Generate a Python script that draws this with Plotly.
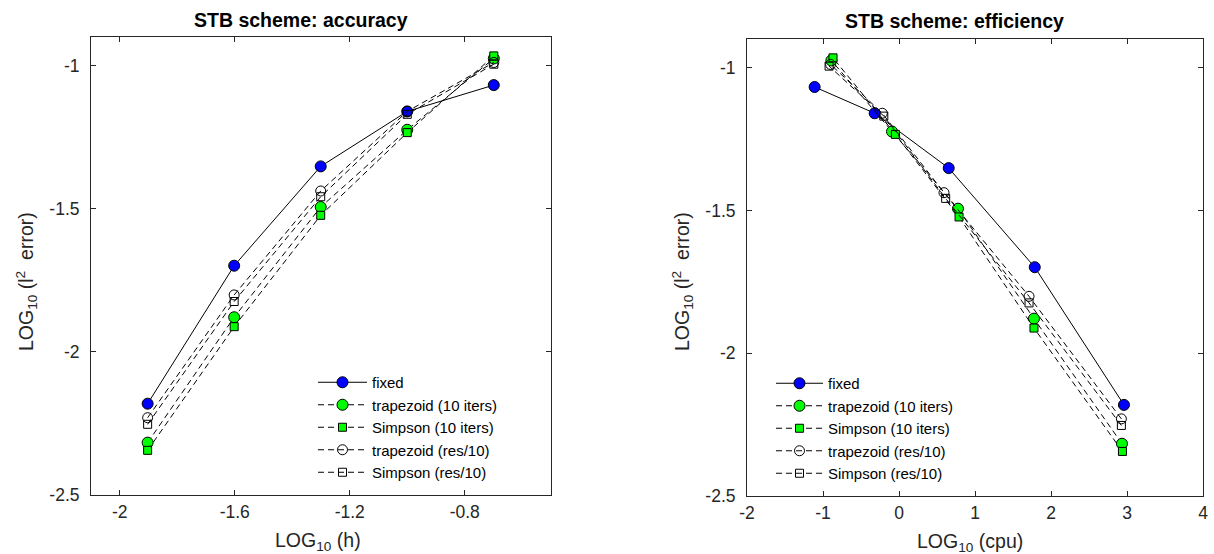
import plotly.graph_objects as go

# ---- data ----
log_h = [-1.903, -1.602, -1.301, -1.0, -0.699]

err_fixed = [-2.181, -1.699, -1.352, -1.160, -1.068]
err_trap10 = [-2.317, -1.879, -1.494, -1.224, -0.975]
err_simp10 = [-2.344, -1.912, -1.523, -1.234, -0.966]
err_trapres = [-2.230, -1.801, -1.438, -1.160, -0.989]
err_simpres = [-2.253, -1.824, -1.458, -1.170, -0.995]

cpu_fixed = [2.960, 1.786, 0.654, -0.320, -1.110]
cpu_trap10 = [2.934, 1.776, 0.776, -0.092, -0.890]
cpu_simp10 = [2.940, 1.776, 0.790, -0.047, -0.868]
cpu_trapres = [2.926, 1.711, 0.592, -0.220, -0.900]
cpu_simpres = [2.926, 1.711, 0.614, -0.200, -0.920]

names = ["fixed", "trapezoid (10 iters)", "Simpson (10 iters)",
         "trapezoid (res/10)", "Simpson (res/10)"]

x1_tickvals = [-2, -1.6, -1.2, -0.8]
x1_ticktext = ["-2", "-1.6", "-1.2", "-0.8"]
x2_tickvals = [-2, -1, 0, 1, 2, 3, 4]
x2_ticktext = ["-2", "-1", "0", "1", "2", "3", "4"]
y_tickvals = [-2.5, -2, -1.5, -1]
y_ticktext = ["-2.5", "-2", "-1.5", "-1"]

# ---- styles ----
styles = [
    dict(dash="solid", symbol="circle", size=11, color="#0000FF"),
    dict(dash="6px,4px", symbol="circle", size=11, color="#00FF00"),
    dict(dash="6px,4px", symbol="square", size=8, color="#00FF00"),
    dict(dash="6px,4px", symbol="circle-open", size=10, color="black"),
    dict(dash="6px,4px", symbol="square-open", size=8, color="black"),
]

fig = go.Figure()

left_y = [err_fixed, err_trap10, err_simp10, err_trapres, err_simpres]
right_x = [cpu_fixed, cpu_trap10, cpu_simp10, cpu_trapres, cpu_simpres]

for i, (nm, st) in enumerate(zip(names, styles)):
    marker = dict(symbol=st["symbol"], size=st["size"], color=st["color"],
                  line=dict(color="black", width=1))
    fig.add_trace(go.Scatter(
        x=log_h, y=left_y[i], mode="lines+markers", name=nm,
        line=dict(color="black", width=1, dash=st["dash"]),
        marker=marker, xaxis="x", yaxis="y", legend="legend"))
for i, (nm, st) in enumerate(zip(names, styles)):
    marker = dict(symbol=st["symbol"], size=st["size"], color=st["color"],
                  line=dict(color="black", width=1))
    fig.add_trace(go.Scatter(
        x=right_x[i], y=left_y[i], mode="lines+markers", name=nm,
        line=dict(color="black", width=1, dash=st["dash"]),
        marker=marker, xaxis="x2", yaxis="y2", legend="legend2"))

W, H = 1214, 554
axcol = "#262626"
FONT = "Liberation Sans, Arial, sans-serif"
tickfont = dict(family=FONT, size=17.5, color=axcol)

common = dict(showline=True, linecolor=axcol, linewidth=1, mirror="ticks",
              ticks="inside", ticklen=5, tickcolor=axcol, tickwidth=1,
              showgrid=False, zeroline=False, tickfont=tickfont)

fig.update_layout(
    width=W, height=H,
    margin=dict(l=0, r=0, t=0, b=0, autoexpand=False),
    paper_bgcolor="white", plot_bgcolor="white",
    xaxis=dict(domain=[91 / W, 551 / W], range=[-2.1, -0.5],
               tickmode="array", tickvals=x1_tickvals, ticktext=x1_ticktext,
               anchor="y", ticklabelstandoff=1, **common),
    yaxis=dict(domain=[1 - 495 / H, 1 - 37 / H], range=[-2.5, -0.9],
               tickmode="array", tickvals=y_tickvals, ticktext=y_ticktext,
               anchor="x", ticklabelstandoff=7, **common),
    xaxis2=dict(domain=[747 / W, 1203 / W], range=[-2, 4],
                tickmode="array", tickvals=x2_tickvals, ticktext=x2_ticktext,
                anchor="y2", ticklabelstandoff=1, **common),
    yaxis2=dict(domain=[1 - 496 / H, 1 - 39 / H], range=[-2.5, -0.9],
                tickmode="array", tickvals=y_tickvals, ticktext=y_ticktext,
                anchor="x2", ticklabelstandoff=7, **common),
    legend=dict(x=313 / W, y=1 - 366 / H, xanchor="left", yanchor="top",
                bgcolor="rgba(0,0,0,0)", borderwidth=0, itemwidth=49,
                font=dict(family=FONT, size=15, color="black")),
    legend2=dict(x=771 / W, y=1 - 367 / H, xanchor="left", yanchor="top",
                 bgcolor="rgba(0,0,0,0)", borderwidth=0, itemwidth=47,
                 font=dict(family=FONT, size=15, color="black")),
    showlegend=True,
)

lab_font = dict(family=FONT, size=19.5, color=axcol)
title_font = dict(family=FONT, size=19.5, color="black")

ylab = "LOG<sub>10</sub> (l<sup>2</sup>&nbsp; error)"
annotations = [
    dict(text="<b>STB scheme: accuracy</b>", x=301 / W, y=1 - 20 / H,
         xref="paper", yref="paper", xanchor="center", yanchor="middle",
         showarrow=False, font=title_font),
    dict(text="<b>STB scheme: efficiency</b>", x=954 / W, y=1 - 21 / H,
         xref="paper", yref="paper", xanchor="center", yanchor="middle",
         showarrow=False, font=title_font),
    dict(text="LOG<sub>10</sub> (h)", x=318 / W, y=1 - 541 / H,
         xref="paper", yref="paper", xanchor="center", yanchor="middle",
         showarrow=False, font=lab_font),
    dict(text="LOG<sub>10</sub> (cpu)", x=970 / W, y=1 - 542 / H,
         xref="paper", yref="paper", xanchor="center", yanchor="middle",
         showarrow=False, font=lab_font),
    dict(text=ylab, x=26 / W, y=1 - 282 / H,
         xref="paper", yref="paper", xanchor="center", yanchor="middle",
         textangle=-90, showarrow=False, font=lab_font),
    dict(text=ylab, x=682 / W, y=1 - 282 / H,
         xref="paper", yref="paper", xanchor="center", yanchor="middle",
         textangle=-90, showarrow=False, font=lab_font),
]
fig.update_layout(annotations=annotations)

fig.write_html("out.html", config={"displayModeBar": False},
               post_script="document.body.style.margin='0';document.body.style.overflow='hidden';")
